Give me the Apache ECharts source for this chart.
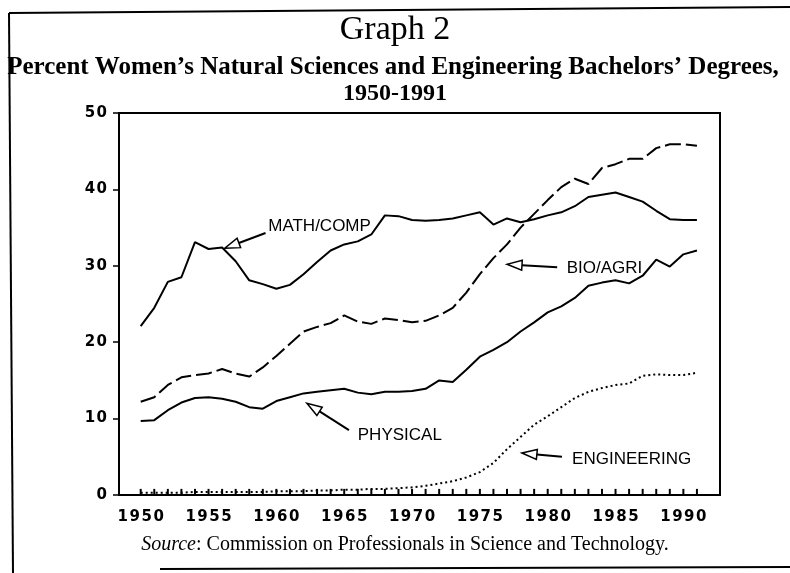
<!DOCTYPE html>
<html>
<head>
<meta charset="utf-8">
<script src="https://cdn.jsdelivr.net/npm/echarts@6/dist/echarts.min.js"></script>
<style>
html, body { margin: 0; padding: 0; background: #fff; }
#main { width: 790px; height: 573px; }
</style>
</head>
<body>
<div id="main"></div>
<script>
// years 1950 - 1991
let years = [1950, 1951, 1952, 1953, 1954, 1955, 1956, 1957, 1958, 1959,
    1960, 1961, 1962, 1963, 1964, 1965, 1966, 1967, 1968, 1969,
    1970, 1971, 1972, 1973, 1974, 1975, 1976, 1977, 1978, 1979,
    1980, 1981, 1982, 1983, 1984, 1985, 1986, 1987, 1988, 1989,
    1990, 1991];

// percent women
let mathComp = [22.1, 24.5, 27.9, 28.5, 33.1, 32.2, 32.4, 30.6, 28.1, 27.6,
    27.0, 27.5, 28.9, 30.5, 32.0, 32.8, 33.2, 34.1, 36.6, 36.5,
    36.0, 35.9, 36.0, 36.2, 36.6, 37.0, 35.4, 36.2, 35.7, 36.1,
    36.6, 37.0, 37.8, 39.0, 39.3, 39.6, 39.0, 38.4, 37.2, 36.1,
    36.0, 36.0];
let bioAgri = [12.2, 12.8, 14.4, 15.4, 15.7, 15.9, 16.5, 15.9, 15.5, 16.7,
    18.2, 19.8, 21.4, 22.0, 22.5, 23.5, 22.7, 22.4, 23.1, 22.9,
    22.6, 22.8, 23.5, 24.5, 26.5, 28.9, 31.0, 32.8, 35.0, 36.8,
    38.6, 40.3, 41.4, 40.7, 42.8, 43.3, 44.0, 44.0, 45.4, 45.9,
    45.9, 45.7];
let physical = [9.7, 9.8, 11.1, 12.1, 12.7, 12.8, 12.6, 12.2, 11.5, 11.3,
    12.3, 12.8, 13.3, 13.5, 13.7, 13.9, 13.4, 13.2, 13.5, 13.5,
    13.6, 13.9, 15.0, 14.8, 16.4, 18.1, 19.0, 20.0, 21.4, 22.6,
    23.9, 24.7, 25.8, 27.4, 27.8, 28.1, 27.7, 28.7, 30.8, 29.9,
    31.5, 32.0];
let engineering = [0.3, 0.3, 0.3, 0.3, 0.4, 0.4, 0.4, 0.4, 0.4, 0.4,
    0.5, 0.5, 0.5, 0.6, 0.6, 0.7, 0.7, 0.8, 0.8, 0.9,
    1.0, 1.2, 1.5, 1.8, 2.3, 3.0, 4.2, 6.0, 7.6, 9.2,
    10.3, 11.5, 12.7, 13.5, 14.0, 14.4, 14.6, 15.6, 15.8, 15.7,
    15.7, 16.0];

// tick labels
let xLabels = [1950, 1955, 1960, 1965, 1970, 1975, 1980, 1985, 1990];
let yLabels = [0, 10, 20, 30, 40, 50];

// labels with arrows, in data units: text spot, arrow tail, arrow tip
let notes = [
    { text: 'MATH/COMP',   at: [1959.4, 35.2], from: [1959.2, 34.3], to: [1956.2, 32.3] },
    { text: 'BIO/AGRI',    at: [1981.4, 29.7], from: [1980.7, 29.8], to: [1977.0, 30.2] },
    { text: 'PHYSICAL',    at: [1966.0, 7.85], from: [1965.35, 8.5], to: [1962.25, 12.0] },
    { text: 'ENGINEERING', at: [1981.8, 4.7],  from: [1981.05, 5.0], to: [1978.1, 5.5] }
];

let myChart = echarts.init(document.getElementById('main'));

function lineSeries(name, vals, dash) {
    return {
        name: name,
        type: 'line',
        data: years.map((y, i) => [y, vals[i]]),
        symbol: 'none',
        lineStyle: { color: '#000', width: 2, type: dash },
        z: 3
    };
}

let axisFont = { fontFamily: 'DejaVu Sans', fontWeight: 'bold', color: '#000' };

let option = {
    animation: false,
    backgroundColor: '#fff',
    grid: {
        left: 119, right: 70, top: 113, bottom: 78,
        show: true, borderColor: '#000', borderWidth: 2
    },
    xAxis: {
        type: 'value',
        min: 1948.4,
        max: 1992.7,
        axisLine: { show: true, lineStyle: { color: '#000', width: 2 } },
        axisTick: { show: false },
        axisLabel: Object.assign({
            customValues: xLabels,
            fontSize: 15,
            margin: 15,
            formatter: v => String(v).split('').join('\u200a')
        }, axisFont),
        splitLine: { show: false }
    },
    yAxis: {
        type: 'value',
        min: 0,
        max: 50,
        interval: 10,
        axisLine: { show: true, lineStyle: { color: '#000', width: 2 } },
        axisTick: { show: true, length: 6, lineStyle: { color: '#000', width: 1.5 } },
        axisLabel: Object.assign({
            fontSize: 15,
            margin: 12,
            formatter: v => yLabels.indexOf(v) >= 0 ? String(v).split('').join('\u200a') : ''
        }, axisFont),
        splitLine: { show: false }
    },
    series: [
        lineSeries('MATH/COMP', mathComp, 'solid'),
        lineSeries('BIO/AGRI', bioAgri, [16, 5]),
        lineSeries('PHYSICAL', physical, 'solid'),
        lineSeries('ENGINEERING', engineering, [2, 3]),
        {
            // small yearly ticks standing on the x axis
            type: 'bar',
            silent: true,
            z: 2,
            barWidth: 2,
            itemStyle: { color: '#000' },
            data: years.map(y => [y, 0.8])
        }
    ]
};

myChart.setOption(option);

// titles, frame and note arrows
let g = [];
let serif = '"Liberation Serif", "Times New Roman", serif';

g.push({ type: 'text', x: 395, y: 30, style: {
    text: 'Graph 2', fill: '#000', fontSize: 34, fontFamily: serif,
    align: 'center', verticalAlign: 'middle', textAlign: 'center', textVerticalAlign: 'middle' } });
g.push({ type: 'text', x: 393, y: 68, style: {
    text: 'Percent Women\u2019s Natural Sciences and Engineering Bachelors\u2019 Degrees,',
    fill: '#000', fontSize: 25, fontWeight: 'bold', fontFamily: serif,
    align: 'center', verticalAlign: 'middle', textAlign: 'center', textVerticalAlign: 'middle' } });
g.push({ type: 'text', x: 395, y: 94, style: {
    text: '1950-1991', fill: '#000', fontSize: 24, fontWeight: 'bold', fontFamily: serif,
    align: 'center', verticalAlign: 'middle', textAlign: 'center', textVerticalAlign: 'middle' } });
g.push({ type: 'text', x: 405, y: 545, style: {
    text: '{i|Source}: Commission on Professionals in Science and Technology.',
    fill: '#000', fontSize: 20, fontFamily: serif,
    rich: { i: { fontStyle: 'italic', fontSize: 20, fontFamily: serif } },
    align: 'center', verticalAlign: 'middle', textAlign: 'center', textVerticalAlign: 'middle' } });

// outer frame
let frame = { stroke: '#000', lineWidth: 2 };
g.push({ type: 'line', shape: { x1: 9, y1: 13, x2: 790, y2: 7 }, style: frame });
g.push({ type: 'line', shape: { x1: 9, y1: 13, x2: 13, y2: 573 }, style: frame });
g.push({ type: 'line', shape: { x1: 160, y1: 569, x2: 790, y2: 567 }, style: frame });

notes.forEach(n => {
    let at = myChart.convertToPixel({ gridIndex: 0 }, n.at);
    let from = myChart.convertToPixel({ gridIndex: 0 }, n.from);
    let to = myChart.convertToPixel({ gridIndex: 0 }, n.to);
    let dx = from[0] - to[0], dy = from[1] - to[1];
    let len = Math.sqrt(dx * dx + dy * dy);
    dx /= len; dy /= len;
    let head = 15, half = 5;
    let bx = to[0] + dx * head, by = to[1] + dy * head;
    g.push({ type: 'text', x: at[0], y: at[1], z: 10, style: {
        text: n.text, fill: '#000', fontSize: 17, fontFamily: '"Liberation Sans", Arial, sans-serif',
        align: 'left', verticalAlign: 'middle', textAlign: 'left', textVerticalAlign: 'middle' } });
    g.push({ type: 'line', z: 10, shape: { x1: from[0], y1: from[1], x2: bx, y2: by },
        style: { stroke: '#000', lineWidth: 2 } });
    g.push({ type: 'polygon', z: 10, shape: { points: [
        [to[0], to[1]], [bx - dy * half, by + dx * half], [bx + dy * half, by - dx * half]
    ] }, style: { stroke: '#000', fill: '#fff', lineWidth: 1.5 } });
});

myChart.setOption({ graphic: g });
</script>
</body>
</html>
